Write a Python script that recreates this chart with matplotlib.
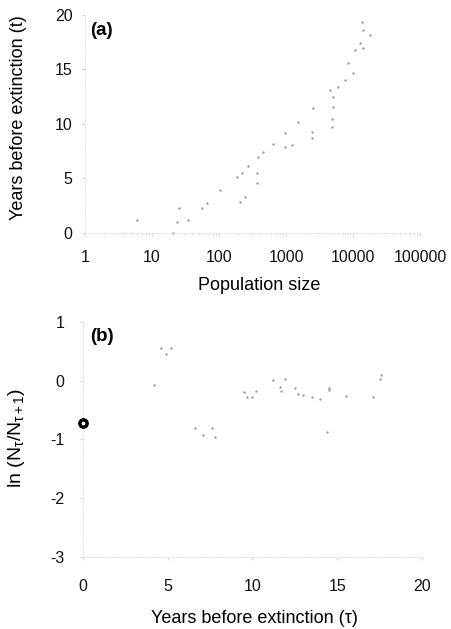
import matplotlib
matplotlib.use("Agg")
import matplotlib.pyplot as plt

plt.rcParams["font.family"] = ["Liberation Sans", "DejaVu Sans"]
plt.rcParams["axes.unicode_minus"] = False
plt.rcParams["mathtext.fontset"] = "custom"
plt.rcParams["mathtext.rm"] = "Liberation Sans"
plt.rcParams["mathtext.it"] = "Liberation Sans"

# Panel (a): population size vs years before extinction
pop_a = [20.6, 24, 35, 25, 56, 66, 103, 185, 220, 270, 205, 245, 365, 365,
         380, 455, 650, 975, 975, 1230, 1500, 2450, 2450, 2500, 4550, 5000,
         5000, 4900, 4900, 6000, 7600, 8500, 10000, 10700, 12600, 14100,
         13800, 17800, 14100, 6]
yrs_a = [0, 1.0, 1.2, 2.3, 2.3, 2.75, 3.9, 5.1, 5.5, 6.1, 2.85, 3.3, 4.6, 5.5,
         7.0, 7.4, 8.2, 9.2, 7.9, 8.1, 10.2, 9.3, 8.7, 11.5, 13.1, 12.5,
         11.6, 10.5, 9.7, 13.4, 14.0, 15.6, 14.7, 16.8, 17.4, 18.6,
         19.4, 18.2, 17.0, 1.2]

# Panel (b): log growth rate vs years before extinction
tau_b = [4.6, 4.9, 5.2, 4.2, 6.6, 7.1, 7.6, 7.8, 9.5, 9.7, 10.0, 10.2, 11.2,
         11.9, 11.6, 11.7, 12.5, 12.7, 13.0, 13.5, 14.0, 14.5, 14.5, 14.4,
         15.5, 17.1, 17.5, 17.6]
ln_b = [0.55, 0.45, 0.56, -0.07, -0.8, -0.92, -0.81, -0.95, -0.19, -0.27,
        -0.27, -0.17, 0.01, 0.03, -0.1, -0.17, -0.12, -0.22, -0.24, -0.27,
        -0.31, -0.12, -0.16, -0.87, -0.26, -0.27, 0.03, 0.1]
tau_mark = [0]
ln_mark = [-0.72]

x_ticks_a = [1, 10, 100, 1000, 10000, 100000]
x_labels_a = ["1", "10", "100", "1000", "10000", "100000"]

fig = plt.figure(figsize=(4.51, 6.29), dpi=100)
ax1 = fig.add_axes([0.1885, 0.6296, 0.7428, 0.3466])
ax2 = fig.add_axes([0.184, 0.1145, 0.7517, 0.3736])

for ax in (ax1, ax2):
    for side in ("top", "right"):
        ax.spines[side].set_visible(False)
    for side in ("left", "bottom"):
        ax.spines[side].set_color("#dddddd")
        ax.spines[side].set_linestyle(":")
        ax.spines[side].set_linewidth(0.6)
    ax.tick_params(colors="#cccccc", labelcolor="#111111", labelsize=11.5,
                   length=2, width=0.6)

# (a)
ax1.scatter(pop_a, yrs_a, s=3, c="#9a9a9a", linewidths=0, clip_on=False)
ax1.set_xscale("log")
ax1.set_xlim(1, 100000)
ax1.set_ylim(0, 20)
ax1.set_xticks(x_ticks_a)
ax1.set_xticklabels(x_labels_a)
ax1.set_yticks([0, 5, 10, 15, 20])
ax1.tick_params(axis="x", pad=10)
ax1.tick_params(axis="y", pad=7)
ax1.tick_params(which="minor", colors="#cccccc", length=1.5, width=0.5)
ax1.set_xlabel("Population size", fontsize=13)
ax1.set_ylabel("Years before extinction (t)", fontsize=13)
ax1.xaxis.set_label_coords(0.52, -0.2)
ax1.yaxis.set_label_coords(-0.173, 0.53)
ax1.text(0.015, 0.93, "(a)", transform=ax1.transAxes, fontsize=13.5,
         fontweight="bold", va="center")

# (b)
ax2.scatter(tau_b, ln_b, s=3, c="#9a9a9a", linewidths=0, clip_on=False)
ax2.scatter(tau_mark, ln_mark, s=45, c="black", zorder=3, clip_on=False)
ax2.scatter(tau_mark, ln_mark, s=3, c="white", zorder=4, clip_on=False)
ax2.set_xlim(0, 20)
ax2.set_ylim(-3, 1)
ax2.set_xticks([0, 5, 10, 15, 20])
ax2.set_yticks([1, 0, -1, -2, -3])
ax2.tick_params(axis="x", pad=14)
ax2.tick_params(axis="y", pad=11.5)
ax2.set_xlabel("Years before extinction (\u03c4)", fontsize=13)
ax2.set_ylabel(r"ln (N$_\tau$/N$_{\tau+1}$)", fontsize=14)
ax2.xaxis.set_label_coords(0.507, -0.225)
ax2.yaxis.set_label_coords(-0.165, 0.506)
ax2.text(0.02, 0.94, "(b)", transform=ax2.transAxes, fontsize=13.5,
         fontweight="bold", va="center")

fig.savefig("out.png", dpi=100)
